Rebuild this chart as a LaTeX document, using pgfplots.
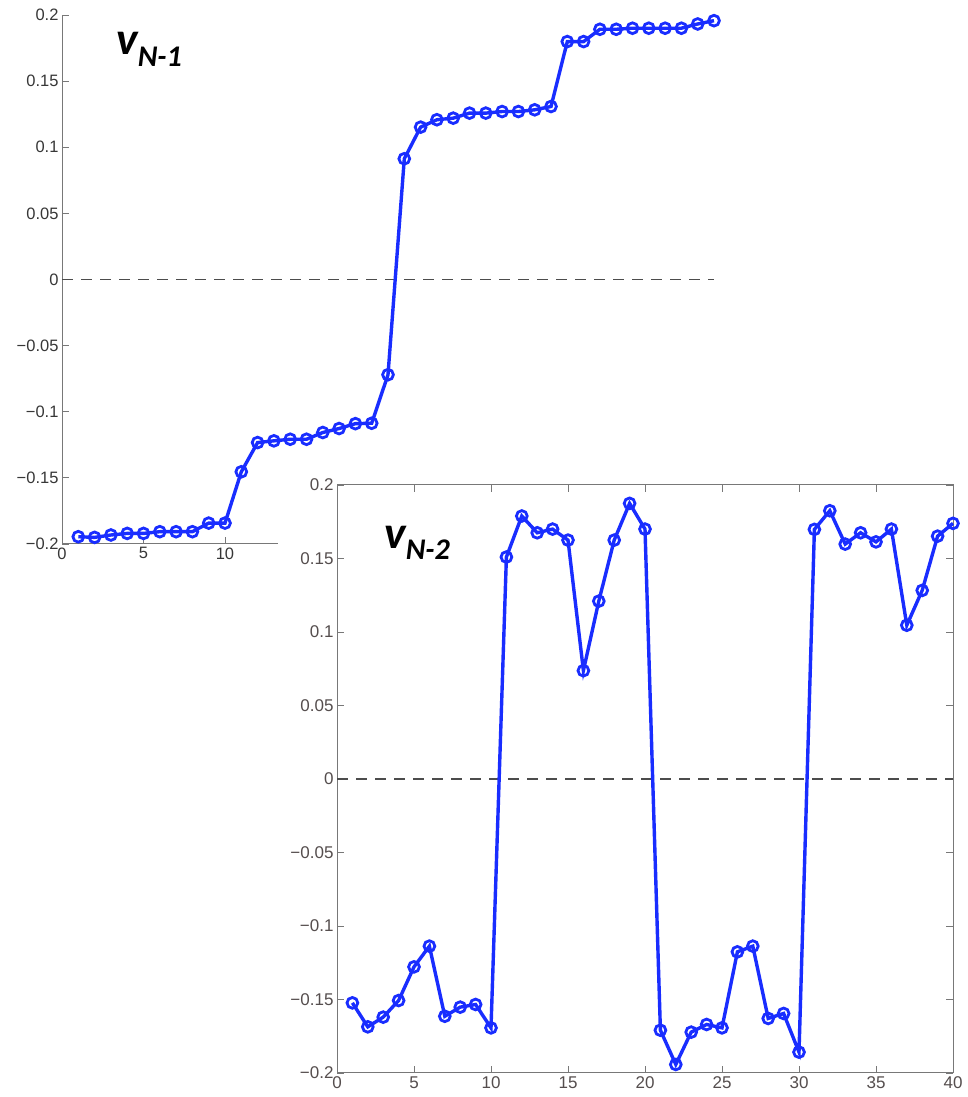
\documentclass[border=0pt]{standalone}
\usepackage{pgfplots}
\pgfplotsset{compat=1.18}
\usepackage{fontspec}
\setmainfont{Liberation Sans}
\newfontfamily\carlito{Carlito}
\definecolor{mblue}{RGB}{25,45,255}
\definecolor{tickgray}{RGB}{55,55,55}
\definecolor{tickgrayb}{RGB}{85,78,78}
\definecolor{axgray}{RGB}{120,120,120}
\begin{document}
\begin{tikzpicture}
\path[use as bounding box] (0pt,0pt) rectangle (967pt,1097pt);
\pgfplotsset{
  common/.style={
    scale only axis, anchor=south west,
    xmin=0, xmax=40, ymin=-0.2, ymax=0.2,
    ytick={-0.2,-0.15,-0.1,-0.05,0,0.05,0.1,0.15,0.2},
    yticklabels={−0.2,−0.15,−0.1,−0.05,0,0.05,0.1,0.15,0.2},
    scaled y ticks=false, scaled x ticks=false,
    tick style={axgray, line width=0.8pt},
    axis line style={axgray, line width=1pt},
    major tick length=7pt, tick align=inside,
    clip=false,
  },
  dat/.style={mblue, line width=3.4pt, mark=o, mark size=5.4pt,
    mark options={line width=2.8pt, solid}},
  zer/.style={black!70, line width=1.1pt, dash pattern=on 11pt off 8pt},
}
% ---------- v_{N-1} ----------
\begin{axis}[common, at={(62pt,553pt)}, width=652pt, height=529pt,
  axis x line*=bottom, axis y line*=left,
  xtick={0,5,10}, xticklabels={0,5,10},
  tick label style={font=\fontsize{16.5}{18}\selectfont, text=tickgray}]
\addplot[zer] coordinates {(0,0) (40,0)};
\addplot[dat] coordinates {
(1,-0.1945) (2,-0.1950) (3,-0.1932) (4,-0.1920) (5,-0.1920)
(6,-0.1907) (7,-0.1907) (8,-0.1907) (9,-0.1842) (10,-0.1842)
(11,-0.1454) (12,-0.1233) (13,-0.1220) (14,-0.1208) (15,-0.1208)
(16,-0.1157) (17,-0.1127) (18,-0.1090) (19,-0.1087) (20,-0.0720)
(21,0.0913) (22,0.1152) (23,0.1208) (24,0.1220) (25,0.1258)
(26,0.1258) (27,0.1270) (28,0.1270) (29,0.1283) (30,0.1308)
(31,0.1799) (32,0.1799) (33,0.1892) (34,0.1892) (35,0.1900)
(36,0.1900) (37,0.1900) (38,0.1900) (39,0.1932) (40,0.1957)};
\end{axis}
\node[anchor=base west, inner sep=0pt, font=\carlito\bfseries\itshape\fontsize{46}{46}\selectfont]
  at (116pt,1042pt) {v\raisebox{-12pt}{\fontsize{30}{30}\selectfont N-1}};
% white patch of the second picture
\fill[white] (278pt,0pt) rectangle (967pt,629pt);
% ---------- v_{N-2} ----------
\begin{axis}[common, at={(337pt,24pt)}, width=616pt, height=588pt,
  axis lines=box,
  xtick={0,5,10,15,20,25,30,35,40},
  xticklabels={0,5,10,15,20,25,30,35,40},
  tick label style={font=\fontsize{17}{19}\selectfont, text=tickgrayb}]
\addplot[zer] coordinates {(0,0) (40,0)};
\addplot[dat] coordinates {
(1,-0.1523) (2,-0.1686) (3,-0.1620) (4,-0.1507) (5,-0.1278)
(6,-0.1137) (7,-0.1614) (8,-0.1552) (9,-0.1534) (10,-0.1693)
(11,0.1510) (12,0.1789) (13,0.1675) (14,0.1700) (15,0.1625)
(16,0.0737) (17,0.1210) (18,0.1625) (19,0.1875) (20,0.1700)
(21,-0.1709) (22,-0.1942) (23,-0.1722) (24,-0.1670) (25,-0.1693)
(26,-0.1176) (27,-0.1137) (28,-0.1629) (29,-0.1595) (30,-0.1858)
(31,0.1698) (32,0.1825) (33,0.1598) (34,0.1675) (35,0.1613)
(36,0.1700) (37,0.1046) (38,0.1283) (39,0.1652) (40,0.1739)};
\end{axis}
\node[anchor=base west, inner sep=0pt, font=\carlito\bfseries\itshape\fontsize{46}{46}\selectfont]
  at (384pt,548pt) {v\raisebox{-11pt}{\fontsize{30}{30}\selectfont N-2}};
\end{tikzpicture}
\end{document}
